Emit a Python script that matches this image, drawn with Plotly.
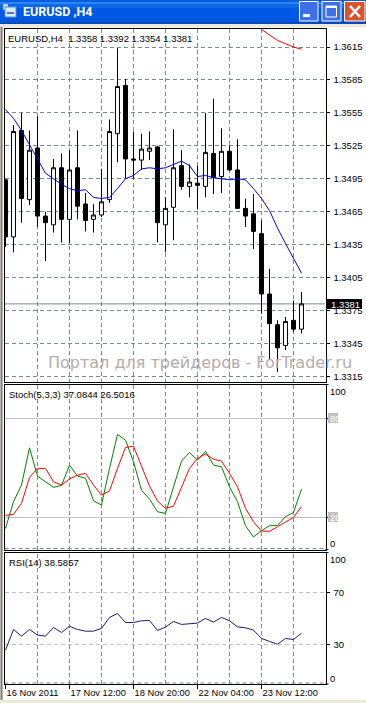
import plotly.graph_objects as go

W, H = 366, 703

# ---- data ----
opens = [1.3494,1.3442,1.3539,1.3476,1.3523,1.3461,1.3453,1.3505,1.3458,1.3505,1.3472,1.3458,1.3462,1.3476,1.3536,1.3580,1.3513,1.3512,1.3520,1.3524,1.3453,1.3469,1.3507,1.3488,1.3491,1.3488,1.3518,1.3497,1.3520,1.3503,1.3468,1.3463,1.3445,1.3390,1.3362,1.3343,1.3366,1.3358]
highs = [1.3494,1.3544,1.3555,1.3539,1.3552,1.3465,1.3513,1.3518,1.3521,1.3539,1.3482,1.3472,1.3504,1.3549,1.3614,1.3586,1.3538,1.3536,1.3538,1.3525,1.3478,1.3540,1.3521,1.3508,1.3507,1.3555,1.3568,1.3541,1.3525,1.3531,1.3477,1.3481,1.3457,1.3413,1.3366,1.3369,1.3384,1.3392]
lows = [1.3433,1.3428,1.3455,1.3471,1.3451,1.3420,1.3446,1.3437,1.3436,1.3458,1.3447,1.3446,1.3460,1.3473,1.3510,1.3495,1.3495,1.3503,1.3512,1.3437,1.3428,1.3439,1.3485,1.3478,1.3467,1.3478,1.3481,1.3482,1.3502,1.3468,1.3451,1.3431,1.3372,1.3330,1.3319,1.3339,1.3355,1.3354]
closes = [1.3442,1.3538,1.3477,1.3521,1.3461,1.3455,1.3505,1.3458,1.3503,1.3470,1.3457,1.3462,1.3474,1.3538,1.3579,1.3513,1.3512,1.3522,1.3523,1.3455,1.3468,1.3505,1.3488,1.3492,1.3489,1.3519,1.3496,1.3520,1.3503,1.3468,1.3461,1.3447,1.3390,1.3363,1.3341,1.3365,1.3358,1.3381]
ma_blue = [1.3558,1.3550,1.3539,1.3526,1.3512,1.3500,1.3495,1.3490,1.3486,1.3484,1.3485,1.3478,1.3477,1.3478,1.3486,1.3495,1.3498,1.3504,1.3505,1.3504,1.3505,1.3508,1.3511,1.3507,1.3497,1.3498,1.3496,1.3495,1.3494,1.3495,1.3494,1.3486,1.3477,1.3466,1.3450,1.3436,1.3423,1.3409]
ma_red = [1.3631,1.3626,1.3621,1.3618,1.3615,1.3613]
stoch_main = [13.3,29.5,39.6,62.2,45,41.6,38.2,39.4,51.7,45,43.8,30.1,27.5,49.7,70.3,66.8,53.7,36.5,31.1,23.4,22.4,38.5,54.1,59.4,54.7,60,51.7,50.7,38.5,29.5,14.9,8.1,11.9,14.9,15.1,20.4,23,37.08]
stoch_signal = [21.2,21.8,28.5,44.2,49.7,49.7,41.6,39.6,43.2,45.6,46.7,39.6,33.5,36.1,49.7,62.4,63.2,50.7,39,29.9,25.5,26.8,38.5,49.7,55.8,58.4,55.3,54.1,46.7,38.5,25.5,17.3,11.7,11.5,14.3,17,20,26.5]
rsi = [25.6,41.5,36.4,41.5,37.2,36.4,43,39.2,44,41.5,40.2,40.2,42.3,50.8,53.8,46.9,46.9,48.2,48.4,40.8,43.3,47.7,45.4,45.8,46.4,50,47.2,50.8,48.2,43.5,42.8,41,34.6,32.3,30.2,34.6,33.8,38.6]
price_ticks = [1.3315,1.3345,1.3375,1.3405,1.3435,1.3465,1.3495,1.3525,1.3555,1.3585,1.3615]
date_ticks = [0,8,16,24,32]
date_labels = ["16 Nov 2011","17 Nov 12:00","18 Nov 20:00","22 Nov 04:00","23 Nov 12:00"]
grid_bars = [4,8,12,16,20,24,28,32,36]
last_price = 1.3381
x = list(range(len(closes)))

# ---- layout helpers: pixel positions of the window furniture ----
L, R = 4.5, 325.5
def py(p): return 1 - p / H
def px(p): return p / W
SLATE = "#778899"; DASH = "4px,3px"; FONT = "Liberation Sans"
xr = [(L - 5.5) / 8, (R - 5.5) / 8]

fig = go.Figure()
fig.add_trace(go.Candlestick(x=x, open=opens, high=highs, low=lows, close=closes, xaxis="x", yaxis="y",
    increasing=dict(line=dict(color="black", width=1), fillcolor="white"),
    decreasing=dict(line=dict(color="black", width=1), fillcolor="black"),
    whiskerwidth=0, showlegend=False))
fig.add_trace(go.Scatter(x=x, y=ma_blue, mode="lines", line=dict(color="#0000E0", width=1), xaxis="x", yaxis="y"))
fig.add_trace(go.Scatter(x=x[32:], y=ma_red, mode="lines", line=dict(color="#FF0000", width=1), xaxis="x", yaxis="y"))
fig.add_trace(go.Scatter(x=x, y=stoch_main, mode="lines", line=dict(color="#008000", width=1), xaxis="x2", yaxis="y2"))
fig.add_trace(go.Scatter(x=x, y=stoch_signal, mode="lines", line=dict(color="#FF0000", width=1), xaxis="x2", yaxis="y2"))
fig.add_trace(go.Scatter(x=x, y=rsi, mode="lines", line=dict(color="#191970", width=1), xaxis="x3", yaxis="y3"))

frame = dict(showline=True, linecolor="black", linewidth=1, mirror=True, zeroline=False)
gridx = dict(range=xr, domain=[px(L), px(R)], tickmode="array", tickvals=grid_bars, showticklabels=False,
             ticks="", showgrid=True, gridcolor=SLATE, griddash=DASH, gridwidth=1, rangeslider=dict(visible=False), **frame)

shapes = []
annos = []
def rect(x0, y0, x1, y1, color, line=None, lw=1):
    shapes.append(dict(type="rect", xref="paper", yref="paper", x0=px(x0), x1=px(x1), y0=py(y0), y1=py(y1),
                       fillcolor=color, line=dict(color=line or color, width=lw if line else 0), layer="above"))
def seg(x0, y0, x1, y1, color, lw=1):
    shapes.append(dict(type="line", xref="paper", yref="paper", x0=px(x0), x1=px(x1), y0=py(y0), y1=py(y1),
                       line=dict(color=color, width=lw), layer="above"))
def text(t, x0, y0, size=9.5, color="black", anchor="left", fam=FONT, bg=None, **kw):
    annos.append(dict(text=t, xref="paper", yref="paper", x=px(x0), y=py(y0), xanchor=anchor, yanchor="middle",
                      showarrow=False, font=dict(family=fam, size=size, color=color), bgcolor=bg,
                      borderpad=0, borderwidth=0, **kw))

# window title bar
bands = [("#0A5FE0",0,2),("#2B86F5",2,4),("#0E68EA",4,8),("#0058E6",8,18),("#0556DC",18,22),("#0A48C0",22,24)]
for c, a, b in bands:
    rect(0, a, W, b, c)
rect(0, 24, W, 27, "#ECE9D8")
rect(0, 27, 3, H, "#ECE9D8")
seg(1.5, 27, 1.5, H, "#808080", 2)
rect(0, 700, W, H, "#ECE9D8")
# title icon
rect(3, 4, 8, 10, "#B9D8F5"); rect(5, 7, 16, 17, "#DCEBFA", "#5F8FD0", 1)
seg(7, 13, 14, 13, "#2050B0", 1.5)
text("<b>EURUSD ,H4</b>", 22.5, 12, size=12.5, color="white", fam="Roboto")
# window buttons
rect(299.5, 1.5, 318, 21, "#3F6FE8", "white", 1)
rect(303, 14, 310, 17, "white")
rect(322, 1.5, 341, 21, "#3F6FE8", "white", 1)
rect(326, 6, 336.5, 17, "rgba(0,0,0,0)", "white", 1)
seg(326, 7, 336.5, 7, "white", 2)
rect(344.5, 1.5, 365, 21, "#D9532E", "white", 1)
seg(350, 6, 360, 17, "white", 2.5)
seg(360, 6, 350, 17, "white", 2.5)

# chart labels
text("EURUSD,H4  1.3358 1.3392 1.3354 1.3381", 8, 38)
text("Stoch(5,3,3) 37.0844 26.5016", 8.5, 394.5)
text("RSI(14) 38.5857", 8.5, 562)
text("Портал для трейдеров - ForTrader.ru", 48, 362, size=16, color="#B5ABAB", fam="DejaVu Sans")
rect(327, 299, 362, 309, "black")
text(f"{last_price:.4f}", 331, 304, color="white")
for t, yy in (("100", 391.5), ("0", 543.5), ("100", 559), ("0", 678)):
    text(t, 329.5, yy)
rect(328, 413, 338, 423, "#C0C0C0"); text("80", 329.5, 418, color="white")
rect(328, 512, 338, 522, "#C0C0C0"); text("20", 329.5, 517, color="white")
for yy in (384.5, 549.5, 552.5, 684):
    seg(R, yy, R + 3, yy, "black")

# current price line, lower dashed rules and RSI vertical grid
shapes.append(dict(type="line", xref="x", yref="y", x0=xr[0], x1=xr[1], y0=last_price, y1=last_price,
                   line=dict(color=SLATE, width=1), layer="below"))
shapes.append(dict(type="line", xref="paper", yref="paper", x0=px(L), x1=px(R), y0=py(548.5), y1=py(548.5),
                   line=dict(color=SLATE, width=1, dash=DASH), layer="below"))
shapes.append(dict(type="line", xref="paper", yref="paper", x0=px(L), x1=px(R), y0=py(683), y1=py(683),
                   line=dict(color=SLATE, width=1, dash=DASH), layer="below"))
for g in grid_bars:
    shapes.append(dict(type="line", xref="x3", yref="paper", x0=g, x1=g, y0=py(684), y1=py(552.5),
                       line=dict(color=SLATE, width=1, dash=DASH), layer="below"))

ylab = dict(side="right", ticks="outside", ticklen=3, tickcolor="black", tickwidth=1,
            tickfont=dict(family=FONT, size=9.5, color="black"), ticklabelstandoff=2, tickmode="array", **frame)

fig.update_layout(
    width=W, height=H, margin=dict(l=0, r=0, t=0, b=0, autoexpand=False),
    paper_bgcolor="white", plot_bgcolor="white", showlegend=False, hovermode=False,
    shapes=shapes, annotations=annos,
    xaxis=dict(anchor="y", **gridx),
    xaxis2=dict(anchor="y2", **gridx),
    xaxis3=dict(anchor="y3", range=xr, domain=[px(L), px(R)], tickmode="array", tickvals=date_ticks, ticktext=date_labels,
                ticks="outside", ticklen=4, tickcolor="black", showgrid=False, ticklabelposition="outside right",
                tickangle=0, tickfont=dict(family=FONT, size=9.3, color="black"), **frame),
    yaxis=dict(anchor="x", domain=[py(381.5), py(29)], range=[1.33103, 1.36314], tickvals=price_ticks,
               ticktext=[f"{v:.4f}" for v in price_ticks], showgrid=True, gridcolor=SLATE, griddash=DASH, **ylab),
    yaxis2=dict(anchor="x2", domain=[py(549.5), py(384.5)], range=[0.5, 100.6], tickvals=[20, 80], ticktext=["", ""],
                showgrid=True, gridcolor="#C0C0C0", **ylab),
    yaxis3=dict(anchor="x3", domain=[py(684), py(552.5)], range=[-0.5, 100.8], tickvals=[30, 70], ticktext=["30", "70"],
                showgrid=True, gridcolor="#C0C0C0", griddash=DASH, **ylab),
)

fig.write_html("out.html", config=dict(displayModeBar=False), post_script="document.body.style.margin='0';document.body.style.overflow='hidden';")
